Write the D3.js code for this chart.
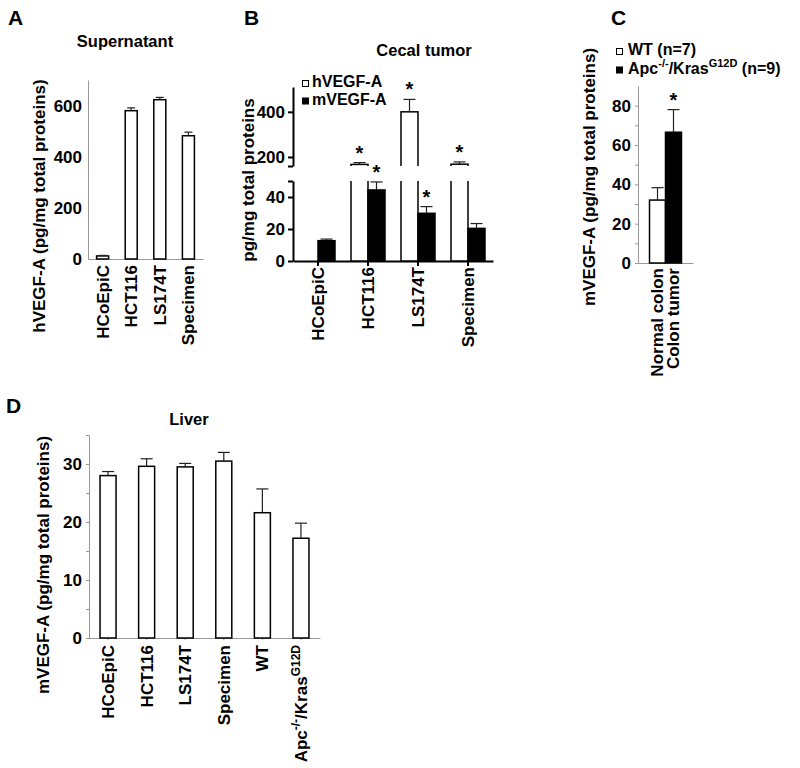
<!DOCTYPE html>
<html>
<head>
<meta charset="utf-8">
<script src="https://cdn.jsdelivr.net/npm/d3@7"></script>
<style>
body { margin: 0; background: #fff; }
svg text { font-family: "Liberation Sans", Arial, Helvetica, sans-serif; font-weight: bold; fill: #000; }
</style>
</head>
<body>
<svg id="fig" width="800" height="768"></svg>
<script>
// ---- data ----
var cellLines = ["HCoEpiC", "HCT116", "LS174T", "Specimen"];

// A: supernatant hVEGF-A
var supernatant    = [12, 580, 623, 482];
var supernatantErr = [2, 11, 9, 14];
var supernatantTicks = [0, 200, 400, 600];

// B: cecal tumor, broken axis
var cecalSeries   = ["hVEGF-A", "mVEGF-A"];
var cecalHuman    = [0, 167, 400, 168];
var cecalHumanErr = [0, 8, 55, 10];
var cecalMouse    = [12.7, 44.4, 29.8, 20.4];
var cecalMouseErr = [1, 5, 4.2, 3];
var cecalHumanSig = [false, true, true, true];
var cecalMouseSig = [false, true, true, false];
var cecalLowTicks  = [0, 20, 40, 50];
var cecalHighTicks = [160, 200, 400];

// C: colon
var colonSeries = ["WT (n=7)", "Apc^{-/-}/Kras^{G12D} (n=9)"];
var colonGroups = ["Normal colon", "Colon tumor"];
var colonValues = [32, 66.5];
var colonErr    = [6.3, 11.5];
var colonSig    = [false, true];
var colonTicks  = [0, 20, 40, 60, 80];
var colonMinor  = [10, 30, 50, 70];

// D: liver
var liverGroups = ["HCoEpiC", "HCT116", "LS174T", "Specimen", "WT", "Apc^{-/-}/Kras^{G12D}"];
var liverValues = [28.0, 29.6, 29.5, 30.5, 21.6, 17.2];
var liverErr    = [0.7, 1.3, 0.6, 1.5, 4.1, 2.6];
var liverTicks  = [0, 10, 20, 30];
var liverMinor  = [5, 15, 25, 35];

var FONT = 17;
var LEGFONT = 16;
var svg = d3.select("#fig");

// text with ^{...} superscripts
function richText(sel, str, fs) {
  var shifted = false;
  str.split(/(\^\{[^}]*\})/).forEach(function(p) {
    if (!p) return;
    var sup = p.indexOf("^{") === 0;
    var t = sel.append("tspan").text(sup ? p.slice(2, -1) : p);
    if (sup) { t.attr("font-size", Math.round(fs * 0.68)).attr("dy", -fs * 0.42); shifted = true; }
    else if (shifted) { t.attr("dy", fs * 0.42); shifted = false; }
  });
}

function styleAxis(g, color, w) {
  g.attr("font-size", FONT);
  g.selectAll("path, line").attr("stroke", color).attr("stroke-width", w);
  g.selectAll("text").attr("fill", "#000");
}

function letter(x, y, t) {
  svg.append("text").attr("x", x).attr("y", y).attr("font-size", 21).text(t);
}

function title(x, y, t) {
  svg.append("text").attr("x", x).attr("y", y).attr("text-anchor", "middle").attr("font-size", 16.5).text(t);
}

function yTitle(x, y, t) {
  svg.append("text")
    .attr("transform", "translate(" + x + "," + y + ") rotate(-90)")
    .attr("text-anchor", "middle").attr("dy", "0.35em").attr("font-size", FONT).text(t);
}

function xLabels(g, x, top, labels) {
  g.selectAll("text.xl").data(labels).enter().append("text")
    .attr("class", "xl")
    .attr("transform", function(d) { return "translate(" + (x(d) + x.bandwidth() / 2) + "," + top + ") rotate(-90)"; })
    .attr("text-anchor", "end").attr("dy", "0.35em").attr("font-size", FONT)
    .each(function(d) { richText(d3.select(this), d, FONT); });
}

// bars with upward error bars (+ optional stars)
function bars(g, o) {
  var rows = o.keys.map(function(k, i) {
    return { k: k, v: o.values[i], e: o.errs[i], s: o.sig ? o.sig[i] : false,
             x0: o.xpos(k, i), w: o.width, fill: o.fill(k, i) };
  }).filter(function(d) { return d.v > 0; });
  var base = o.base !== undefined ? o.base : o.y.range()[0];
  g.selectAll(null).data(rows).enter().append("rect")
    .attr("x", function(d) { return d.x0; })
    .attr("y", function(d) { return o.y(d.v); })
    .attr("width", function(d) { return d.w; })
    .attr("height", function(d) { return base - o.y(d.v); })
    .attr("fill", function(d) { return d.fill; })
    .attr("stroke", "#000").attr("stroke-width", 1.5);
  if (o.noErr) return;
  var eb = g.selectAll(null).data(rows).enter().append("g");
  eb.append("line")
    .attr("x1", function(d) { return d.x0 + d.w / 2; }).attr("x2", function(d) { return d.x0 + d.w / 2; })
    .attr("y1", function(d) { return o.y(d.v); }).attr("y2", function(d) { return o.y(d.v + d.e); })
    .attr("stroke", "#222").attr("stroke-width", 1.2);
  eb.append("line")
    .attr("x1", function(d) { return d.x0 + d.w / 2 - o.cap / 2; }).attr("x2", function(d) { return d.x0 + d.w / 2 + o.cap / 2; })
    .attr("y1", function(d) { return o.y(d.v + d.e); }).attr("y2", function(d) { return o.y(d.v + d.e); })
    .attr("stroke", "#222").attr("stroke-width", 1.2);
  eb.filter(function(d) { return d.s; }).append("text")
    .attr("x", function(d) { return d.x0 + d.w / 2; })
    .attr("y", function(d) { return o.y(d.v + d.e) - 3; })
    .attr("text-anchor", "middle").attr("font-size", 20).text("*");
}

// ================= A =================
letter(8, 25, "A");
title(125, 47, "Supernatant");
var yA = d3.scaleLinear().domain([0, 700]).range([259, 80]);
var xA = d3.scaleBand().domain(cellLines).range([88, 203]).paddingInner(0.58).paddingOuter(0.3);
var gA = svg.append("g");
gA.append("g").attr("transform", "translate(88,0)")
  .call(d3.axisLeft(yA).tickValues(supernatantTicks).tickSize(0).tickPadding(6).tickSizeOuter(0))
  .call(styleAxis, "#999", 1);
gA.append("g").attr("transform", "translate(0,259)")
  .call(d3.axisBottom(xA).tickSize(0).tickFormat("").tickSizeOuter(0))
  .call(styleAxis, "#999", 1);
bars(gA, { keys: cellLines, values: supernatant, errs: supernatantErr, y: yA,
  xpos: function(k) { return xA(k); }, width: xA.bandwidth(), cap: 8,
  fill: function() { return "#fff"; } });
yTitle(39, 206, "hVEGF-A (pg/mg total proteins)");
xLabels(gA, xA, 265, cellLines);

// ================= B =================
letter(244, 25, "B");
title(424, 56, "Cecal tumor");
var yLow  = d3.scaleLinear().domain([0, 50]).range([261, 181]);
var yHigh = d3.scaleLinear().domain([160, 510]).range([166, 87]);
var xB = d3.scaleBand().domain(cellLines).range([293, 493]).paddingInner(0.32).paddingOuter(0.16);
var xSub = d3.scaleBand().domain(cecalSeries).range([0, xB.bandwidth()]);
var fillB = d3.scaleOrdinal().domain(cecalSeries).range(["#fff", "#000"]);
var gB = svg.append("g");
var defs = svg.append("defs");
defs.append("clipPath").attr("id", "clipLow").append("rect").attr("x", 294).attr("y", 181).attr("width", 210).attr("height", 82);
defs.append("clipPath").attr("id", "clipHigh").append("rect").attr("x", 294).attr("y", 60).attr("width", 210).attr("height", 106);

gB.append("g").attr("transform", "translate(293,0)")
  .call(d3.axisLeft(yLow).tickValues(cecalLowTicks).tickFormat(function(d) { return d === 50 ? "" : d; }).tickSize(5).tickPadding(3).tickSizeOuter(0))
  .call(styleAxis, "#000", 2);
gB.append("g").attr("transform", "translate(293,0)")
  .call(d3.axisLeft(yHigh).tickValues(cecalHighTicks).tickFormat(function(d) { return d === 160 ? "" : d; }).tickSize(5).tickPadding(3).tickSizeOuter(0))
  .call(styleAxis, "#000", 2);
gB.append("g").attr("transform", "translate(0,261)")
  .call(d3.axisBottom(xB).tickSize(5).tickFormat("").tickSizeOuter(0))
  .call(styleAxis, "#000", 2);

var lowG = gB.append("g").attr("clip-path", "url(#clipLow)");
var highG = gB.append("g").attr("clip-path", "url(#clipHigh)");
// human bars: body in lower panel, top in upper panel
bars(lowG, { keys: cellLines, values: cecalHuman, errs: cecalHumanErr, y: yLow, noErr: true,
  xpos: function(k) { return xB(k) + xSub("hVEGF-A"); }, width: xSub.bandwidth(), cap: 12,
  fill: function() { return fillB("hVEGF-A"); } });
bars(highG, { keys: cellLines, values: cecalHuman, errs: cecalHumanErr, sig: cecalHumanSig, y: yHigh, base: 180,
  xpos: function(k) { return xB(k) + xSub("hVEGF-A"); }, width: xSub.bandwidth(), cap: 12,
  fill: function() { return fillB("hVEGF-A"); } });
bars(gB, { keys: cellLines, values: cecalMouse, errs: cecalMouseErr, sig: cecalMouseSig, y: yLow,
  xpos: function(k) { return xB(k) + xSub("mVEGF-A"); }, width: xSub.bandwidth(), cap: 12,
  fill: function() { return fillB("mVEGF-A"); } });
// stars of the upper panel must not be clipped
highG.selectAll("text").each(function() { gB.node().appendChild(this); });

var legB = svg.append("g");
cecalSeries.forEach(function(s, i) {
  legB.append("rect").attr("x", 302.5).attr("y", 80.5 + i * 17.5).attr("width", 6).attr("height", 6)
    .attr("fill", fillB(s)).attr("stroke", "#000").attr("stroke-width", 1);
  legB.append("text").attr("x", 312).attr("y", 87 + i * 17.5).attr("font-size", LEGFONT).text(s);
});
yTitle(248, 180, "pg/mg total proteins");
xLabels(gB, xB, 267, cellLines);

// ================= C =================
letter(611, 25, "C");
var yC = d3.scaleLinear().domain([0, 90]).range([263, 86]);
var xC = d3.scaleBand().domain(colonGroups).range([638, 693]).paddingInner(0).paddingOuter(0.72);
var fillC = d3.scaleOrdinal().domain(colonGroups).range(["#fff", "#000"]);
var gC = svg.append("g");
gC.append("g").attr("transform", "translate(638,0)")
  .call(d3.axisLeft(yC).tickValues(colonTicks).tickSize(3).tickPadding(4).tickSizeOuter(0))
  .call(styleAxis, "#999", 1);
gC.append("g").attr("transform", "translate(638,0)")
  .call(d3.axisLeft(yC).tickValues(colonMinor).tickSize(3).tickFormat("").tickSizeOuter(0))
  .call(styleAxis, "#999", 1);
gC.append("g").attr("transform", "translate(0,263)")
  .call(d3.axisBottom(xC).tickSize(0).tickFormat("").tickSizeOuter(0))
  .call(styleAxis, "#999", 1);
bars(gC, { keys: colonGroups, values: colonValues, errs: colonErr, sig: colonSig, y: yC,
  xpos: function(k) { return xC(k); }, width: xC.bandwidth(), cap: 12,
  fill: function(k) { return fillC(k); } });
var legC = svg.append("g");
colonSeries.forEach(function(s, i) {
  legC.append("rect").attr("x", 616.5).attr("y", 48.5 + i * 18.5).attr("width", 6).attr("height", 6)
    .attr("fill", i ? "#000" : "#fff").attr("stroke", "#000").attr("stroke-width", 1);
  legC.append("text").attr("x", 628).attr("y", 55 + i * 18.5).attr("font-size", LEGFONT)
    .each(function() { richText(d3.select(this), s, LEGFONT); });
});
yTitle(589, 177, "mVEGF-A (pg/mg total proteins)");
xLabels(gC, xC, 268, colonGroups);

// ================= D =================
letter(6, 413, "D");
title(189, 425, "Liver");
var yD = d3.scaleLinear().domain([0, 35]).range([638, 435]);
var xD = d3.scaleBand().domain(liverGroups).range([89, 320]).paddingInner(0.585).paddingOuter(0.286);
var gD = svg.append("g");
gD.append("g").attr("transform", "translate(89,0)")
  .call(d3.axisLeft(yD).tickValues(liverTicks).tickSize(3).tickPadding(4).tickSizeOuter(0))
  .call(styleAxis, "#999", 1);
gD.append("g").attr("transform", "translate(89,0)")
  .call(d3.axisLeft(yD).tickValues(liverMinor).tickSize(3).tickFormat("").tickSizeOuter(0))
  .call(styleAxis, "#999", 1);
gD.append("g").attr("transform", "translate(0,638)")
  .call(d3.axisBottom(xD).tickSize(2).tickFormat("").tickSizeOuter(0))
  .call(styleAxis, "#999", 1);
bars(gD, { keys: liverGroups, values: liverValues, errs: liverErr, y: yD,
  xpos: function(k) { return xD(k); }, width: xD.bandwidth(), cap: 12,
  fill: function() { return "#fff"; } });
yTitle(43, 565, "mVEGF-A (pg/mg total proteins)");
xLabels(gD, xD, 645, liverGroups);
</script>
</body>
</html>
